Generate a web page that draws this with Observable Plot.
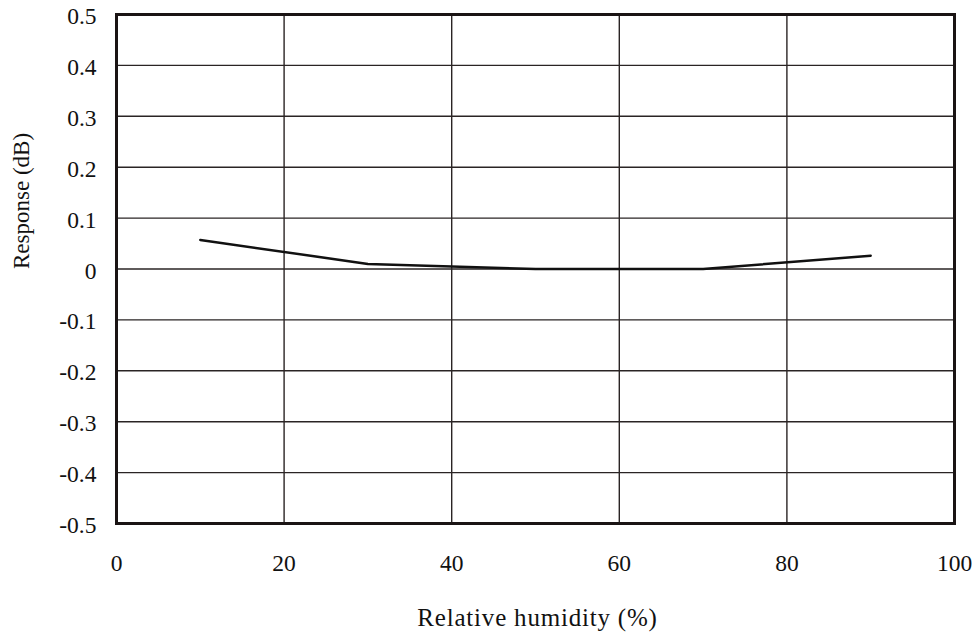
<!DOCTYPE html>
<html>
<head>
<meta charset="utf-8">
<script src="https://cdn.jsdelivr.net/npm/d3@7"></script>
<script src="https://cdn.jsdelivr.net/npm/@observablehq/plot@0.6"></script>
<style>
  html, body { margin: 0; padding: 0; background: #fff; }
  svg, svg text { font-family: "Liberation Serif", "Times New Roman", serif !important; }
</style>
</head>
<body>
<div id="chart"></div>
<script>
const humidity = [10, 30, 50, 70, 90];
const response = [0.057, 0.010, 0.000, 0.000, 0.026];
const xTicks = [0, 20, 40, 60, 80, 100];
const yTicks = [0.5, 0.4, 0.3, 0.2, 0.1, 0, -0.1, -0.2, -0.3, -0.4, -0.5];
const xLabel = "Relative humidity (%)";
const yLabel = "Response (dB)";

const data = humidity.map((h, i) => ({h, r: response[i]}));
const font = "Liberation Serif";

const chart = Plot.plot({
  width: 979,
  height: 636,
  marginLeft: 116,
  marginRight: 25,
  marginTop: 14,
  marginBottom: 113,
  style: {fontFamily: font, fontSize: "23px", color: "#111", background: "#fff"},
  x: {domain: [0, 100], ticks: xTicks},
  y: {domain: [-0.5, 0.5], ticks: yTicks},
  marks: [
    Plot.gridX(xTicks, {stroke: "#2a2424", strokeOpacity: 1, strokeWidth: 1.4}),
    Plot.gridY(yTicks, {stroke: "#2a2424", strokeOpacity: 1, strokeWidth: 1.4}),
    Plot.axisX(xTicks, {tickSize: 0, tickPadding: 31, fontSize: 23.5, fontFamily: font, label: null, fill: "#111"}),
    Plot.axisY(yTicks, {tickSize: 0, tickPadding: 20, fontSize: 23.5, fontFamily: font, label: null, fill: "#111",
      dy: 2, tickFormat: d => String(d)}),
    Plot.text([xLabel], {frameAnchor: "bottom", lineAnchor: "middle", dy: 94, fontSize: 25, fontFamily: font,
      fill: "#111", text: d => d, dx: 2}),
    Plot.text([yLabel], {frameAnchor: "left", lineAnchor: "middle", dx: -95, rotate: -90, fontSize: 23, fontFamily: font,
      fill: "#111", text: d => d}),
    Plot.line(data, {x: "h", y: "r", stroke: "#111", strokeWidth: 2.5}),
    Plot.frame({stroke: "#1a1414", strokeWidth: 3})
  ]
});
chart.querySelectorAll("text").forEach(t => {
  if (t.textContent === xLabel) t.setAttribute("letter-spacing", "0.8");
});
document.getElementById("chart").appendChild(chart);
</script>
</body>
</html>
